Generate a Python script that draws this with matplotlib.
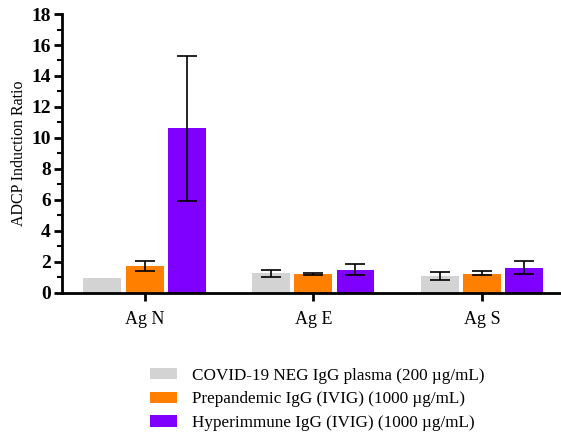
import matplotlib.pyplot as plt
import numpy as np

plt.rcParams['font.family'] = ['Liberation Serif', 'DejaVu Serif']

antigens = ['Ag N', 'Ag E', 'Ag S']
series = ['COVID-19 NEG IgG plasma (200 \u00b5g/mL)',
          'Prepandemic IgG (IVIG) (1000 \u00b5g/mL)',
          'Hyperimmune IgG (IVIG) (1000 \u00b5g/mL)']
colors = ['#d3d3d3', '#ff8000', '#8000ff']

# bar heights
neg = [0.97, 1.25, 1.08]
prep = [1.74, 1.19, 1.23]
hyper = [10.64, 1.47, 1.62]

# error bar ends (low, high); None = no error bar
neg_err = [None, (1.01, 1.47), (0.84, 1.32)]
prep_err = [(1.40, 2.07), (1.13, 1.25), (1.14, 1.38)]
hyper_err = [(5.9, 15.3), (1.16, 1.83), (1.21, 2.05)]

values = [neg, prep, hyper]
errors = [neg_err, prep_err, hyper_err]

fig = plt.figure(figsize=(5.61, 4.32), dpi=100)
ax = fig.add_axes([0.1105, 0.3225, 0.887, 0.645])

x = np.arange(len(antigens))
pitch = 0.25
width = 0.225
for i in range(3):
    xs = x + (i - 1) * pitch
    ax.bar(xs, values[i], width, color=colors[i], label=series[i], zorder=2)
    for xi, v, e in zip(xs, values[i], errors[i]):
        if e is None:
            continue
        ax.errorbar(xi, v, yerr=[[v - e[0]], [e[1] - v]], fmt='none',
                    ecolor='black', elinewidth=1.2, capsize=7, capthick=1.2, zorder=3)

ax.set_xlim(-0.49, 2.46)
ax.set_ylim(0, 18)
ax.set_yticks(np.arange(0, 19, 2))
ax.set_yticks(np.arange(1, 18, 2), minor=True)
ax.set_xticks(x)
ax.set_xticklabels(antigens, fontsize=13)
for lab in ax.get_yticklabels():
    lab.set_fontweight('bold')
    lab.set_fontsize(14)
ax.set_ylabel('ADCP Induction Ratio', fontsize=11.5, labelpad=3)

for s in ['top', 'right']:
    ax.spines[s].set_visible(False)
for s in ['left', 'bottom']:
    ax.spines[s].set_linewidth(2)
ax.tick_params(axis='both', which='major', width=2, length=6, direction='out')
ax.tick_params(axis='y', which='minor', width=1.5, length=3.5)
ax.tick_params(axis='y', which='major', pad=2)
ax.tick_params(axis='x', which='major', pad=7)

fig.legend(loc='upper left', bbox_to_anchor=(0.255, 0.165), frameon=False,
           fontsize=12.3, handlelength=1.6, handleheight=0.65, labelspacing=0.45,
           handletextpad=0.85, borderaxespad=0)

fig.savefig('out.png', dpi=100)
